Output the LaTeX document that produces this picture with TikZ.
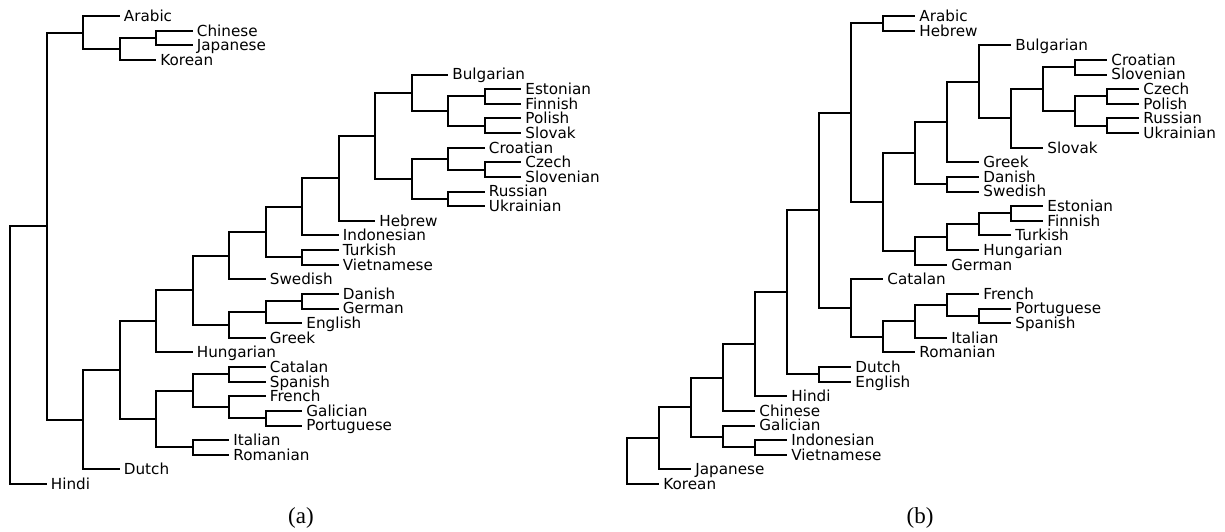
\documentclass[tikz,border=0pt]{standalone}
\usepackage{fontspec}
\setmainfont{DejaVu Sans}
\newfontfamily\capfont{Liberation Serif}

\begin{document}
\begin{tikzpicture}[x=0.5pt, y=-0.5pt,
    leaf/.style={anchor=west, inner xsep=2pt, inner ysep=0pt, text height=5.4pt, text depth=0pt, font=\fontsize{7.6}{9}\selectfont},
    branch/.style={line width=1pt},
    caption/.style={font=\capfont\fontsize{11.5}{13}\selectfont}]
    \useasboundingbox (0,0) rectangle (1225,531);

    % Tree (a): languages
    \foreach \name/\i/\c in {Arabic/0/3, Chinese/1/5, Japanese/2/5, Korean/3/4, Bulgarian/4/12,
        Estonian/5/14, Finnish/6/14, Polish/7/14, Slovak/8/14, Croatian/9/13, Czech/10/14,
        Slovenian/11/14, Russian/12/13, Ukrainian/13/13, Hebrew/14/10, Indonesian/15/9,
        Turkish/16/9, Vietnamese/17/9, Swedish/18/7, Danish/19/9, German/20/9, English/21/8,
        Greek/22/7, Hungarian/23/5, Catalan/24/7, Spanish/25/7, French/26/7, Galician/27/8,
        Portuguese/28/8, Italian/29/6, Romanian/30/6, Dutch/31/3, Hindi/32/1} {
        \node[leaf] (a-\name) at ({10+36.5*\c},{16+14.625*\i}) {\name};
    }
    % Tree (a): merges
    \foreach \n/\d/\y in {m0/0/355.1, m1/1/226.1, m2/2/32.5, m3/3/48.9, m4/4/37.9, m5/2/419.8,
        m6/3/370.2, m7/4/321.3, m8/5/290.3, m9/6/255.7, m10/7/232.1, m11/8/206.8, m12/9/178.3,
        m13/10/135.7, m14/11/92.8, m15/12/111.1, m16/13/96.4, m17/13/125.7, m18/11/178.7,
        m19/12/158.6, m20/13/169.6, m21/12/198.8, m22/8/257.3, m23/6/325.0, m24/7/312.2,
        m25/8/301.2, m26/4/419.1, m27/5/390.8, m28/6/374.3, m29/6/407.2, m30/7/418.2,
        m31/5/447.4} {
        \coordinate (a-\n) at ({10+36.5*\d},\y);
    }
    % Tree (a): branches
    \foreach \p/\c in {m0/m1, m0/Hindi, m1/m2, m1/m5, m2/Arabic, m2/m3, m3/m4, m3/Korean,
        m4/Chinese, m4/Japanese, m5/m6, m5/Dutch, m6/m7, m6/m26, m7/m8, m7/Hungarian,
        m8/m9, m8/m23, m9/m10, m9/Swedish, m10/m11, m10/m22, m11/m12, m11/Indonesian,
        m12/m13, m12/Hebrew, m13/m14, m13/m18, m14/Bulgarian, m14/m15, m15/m16, m15/m17,
        m16/Estonian, m16/Finnish, m17/Polish, m17/Slovak, m18/m19, m18/m21, m19/Croatian,
        m19/m20, m20/Czech, m20/Slovenian, m21/Russian, m21/Ukrainian, m22/Turkish,
        m22/Vietnamese, m23/m24, m23/Greek, m24/m25, m24/English, m25/Danish, m25/German,
        m26/m27, m26/m31, m27/m28, m27/m29, m28/Catalan, m28/Spanish, m29/French, m29/m30,
        m30/Galician, m30/Portuguese, m31/Italian, m31/Romanian} {
        \draw[branch] (a-\p) |- (a-\c);
    }

    % Tree (b): languages
    \foreach \name/\i/\c in {Arabic/0/9, Hebrew/1/9, Bulgarian/2/12, Croatian/3/15,
        Slovenian/4/15, Czech/5/16, Polish/6/16, Russian/7/16, Ukrainian/8/16, Slovak/9/13,
        Greek/10/11, Danish/11/11, Swedish/12/11, Estonian/13/13, Finnish/14/13, Turkish/15/12,
        Hungarian/16/11, German/17/10, Catalan/18/8, French/19/11, Portuguese/20/12,
        Spanish/21/12, Italian/22/10, Romanian/23/9, Dutch/24/7, English/25/7, Hindi/26/5,
        Chinese/27/4, Galician/28/4, Indonesian/29/5, Vietnamese/30/5, Japanese/31/2,
        Korean/32/1} {
        \node[leaf] (b-\name) at ({627+32*\c},{16+14.625*\i}) {\name};
    }
    % Tree (b): merges
    \foreach \n/\d/\y in {m0/0/461.1, m1/1/438.2, m2/2/407.0, m3/3/377.6, m4/4/344.3,
        m5/5/292.3, m6/6/210.4, m7/7/112.7, m8/8/23.3, m9/8/202.0, m10/9/153.1, m11/10/122.0,
        m12/11/81.8, m13/12/118.4, m14/13/89.1, m15/14/67.2, m16/14/111.1, m17/15/96.4,
        m18/15/125.7, m19/10/184.2, m20/9/250.9, m21/10/237.2, m22/11/224.4, m23/12/213.4,
        m24/7/308.0, m25/8/336.8, m26/9/321.3, m27/10/304.8, m28/11/315.8, m29/6/374.3,
        m30/3/436.5, m31/4/447.4} {
        \coordinate (b-\n) at ({627+32*\d},\y);
    }
    % Tree (b): branches
    \foreach \p/\c in {m0/m1, m0/Korean, m1/m2, m1/Japanese, m2/m3, m2/m30, m3/m4,
        m3/Chinese, m4/m5, m4/Hindi, m5/m6, m5/m29, m6/m7, m6/m24, m7/m8, m7/m9, m8/Arabic,
        m8/Hebrew, m9/m10, m9/m20, m10/m11, m10/m19, m11/m12, m11/Greek, m12/Bulgarian,
        m12/m13, m13/m14, m13/Slovak, m14/m15, m14/m16, m15/Croatian, m15/Slovenian,
        m16/m17, m16/m18, m17/Czech, m17/Polish, m18/Russian, m18/Ukrainian, m19/Danish,
        m19/Swedish, m20/m21, m20/German, m21/m22, m21/Hungarian, m22/m23, m22/Turkish,
        m23/Estonian, m23/Finnish, m24/Catalan, m24/m25, m25/m26, m25/Romanian, m26/m27,
        m26/Italian, m27/French, m27/m28, m28/Portuguese, m28/Spanish, m29/Dutch,
        m29/English, m30/Galician, m30/m31, m31/Indonesian, m31/Vietnamese} {
        \draw[branch] (b-\p) |- (b-\c);
    }

    % Captions
    \node[caption] (cap-a) at (301,518) {(a)};
    \node[caption] (cap-b) at (920,518) {(b)};
\end{tikzpicture}
\end{document}
